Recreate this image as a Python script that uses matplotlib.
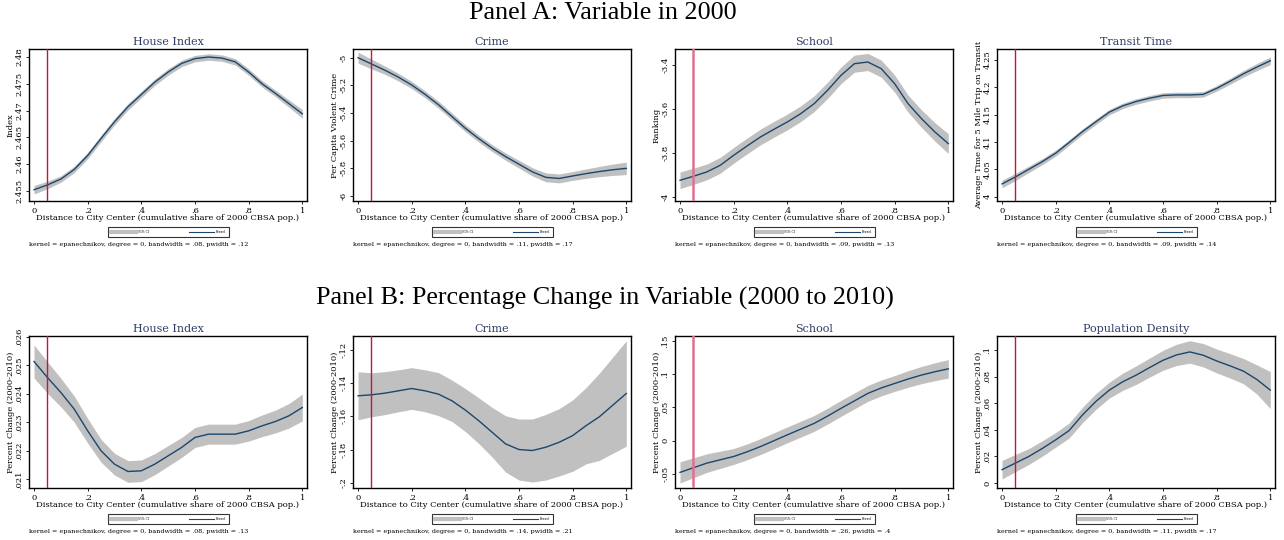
import numpy as np
import matplotlib
matplotlib.use("Agg")
import matplotlib.pyplot as plt
from matplotlib.lines import Line2D

# ---------------- data ----------------
x_grid = [0, .05, .1, .15, .2, .25, .3, .35, .4, .45, .5, .55, .6, .65, .7, .75, .8, .85, .9, .95, 1.0]

a_house = [2.4552, 2.4561, 2.4572, 2.4590, 2.4616, 2.4648, 2.4679, 2.4707, 2.4730, 2.4753, 2.4772,
           2.4788, 2.4797, 2.4800, 2.4798, 2.4791, 2.4772, 2.4750, 2.4732, 2.4713, 2.4694]
a_house_ci = [.0008, .0007, .0006, .0006, .0006, .0006, .0006, .0006, .0006, .0006, .0006,
              .0006, .0006, .0006, .0006, .0006, .0006, .0006, .0006, .0007, .0008]

a_crime = [-5.0, -5.045, -5.09, -5.14, -5.197, -5.265, -5.34, -5.425, -5.51, -5.585, -5.654,
           -5.715, -5.77, -5.825, -5.865, -5.873, -5.855, -5.838, -5.823, -5.81, -5.80]
a_crime_ci = [.04, .035, .03, .028, .026, .025, .025, .025, .025, .025, .025,
              .026, .028, .03, .032, .032, .032, .034, .037, .041, .045]

a_school = [-3.9255, -3.9073, -3.8875, -3.8571, -3.8116, -3.769, -3.728, -3.6931, -3.6597, -3.6217, -3.5762,
            -3.5154, -3.4471, -3.394, -3.3863, -3.4167, -3.485, -3.5762, -3.6445, -3.7052, -3.7584]
a_school_ci = [.038, .037, .036, .036, .036, .036, .036, .036, .036, .036, .036,
               .037, .038, .039, .039, .039, .039, .039, .04, .042, .045]

a_transit = [4.0232, 4.036, 4.050, 4.064, 4.0795, 4.099, 4.119, 4.137, 4.1546, 4.166, 4.174,
             4.180, 4.185, 4.186, 4.186, 4.187, 4.198, 4.211, 4.2247, 4.237, 4.2485]
a_transit_ci = [.007, .0065, .006, .0055, .0055, .005, .005, .005, .005, .005, .005,
                .005, .005, .005, .005, .005, .005, .0055, .006, .0065, .007]

b_house = [.025136, .024575, .024049, .023465, .022705, .022004, .021536, .021279, .021303, .021536, .021829,
           .022121, .022472, .022588, .022588, .022588, .022705, .022880, .023033, .023231, .023523]
b_house_ci = [.00058, .00055, .0005, .00046, .00043, .0004, .00038, .00038, .00038, .00037, .00036,
              .00035, .00035, .00035, .00035, .00035, .00036, .00038, .0004, .00043, .00047]

b_crime = [-.14768, -.14709, -.14609, -.1447, -.1433, -.1447, -.14669, -.15067, -.15624, -.16261, -.16957,
           -.17654, -.17992, -.18052, -.17853, -.17554, -.17157, -.16559, -.16022, -.15325, -.14629]
b_crime_ci = [.0144, .0132, .0129, .0126, .0125, .0126, .0129, .0124, .0129, .0137, .0149,
              .0169, .0183, .0189, .0197, .0202, .0214, .0229, .0262, .0289, .0316]

b_school = [-.048, -.041, -.034, -.029, -.024, -.017, -.009, -.0002, .0087, .0173, .026,
            .037, .0487, .060, .0713, .0795, .0863, .093, .099, .104, .1084]
b_school_ci = [.016, .015, .014, .013, .012, .012, .012, .012, .012, .012, .012,
               .012, .012, .012, .012, .012, .012, .0125, .013, .0135, .014]

b_popden = [.01, .015, .02, .026, .0325, .0395, .0513, .0615, .07, .0763, .0813,
            .087, .0925, .0965, .0988, .0963, .092, .0883, .0843, .078, .07]
b_popden_ci = [.007, .0065, .006, .0058, .0055, .0057, .0058, .006, .006, .0065, .007,
               .0072, .0075, .008, .0085, .0088, .009, .0092, .0095, .011, .014]

panel_a_titles = ["House Index", "Crime", "School", "Transit Time"]
panel_b_titles = ["House Index", "Crime", "School", "Population Density"]
panel_a_ylabels = ["Index", "Per Capita Violent Crime", "Ranking", "Average Time for 5 Mile Trip on Transit"]
panel_b_ylabels = ["Percent Change (2000-2010)"] * 4

a_yticks = [[2.455, 2.46, 2.465, 2.47, 2.475, 2.48], [-6, -5.8, -5.6, -5.4, -5.2, -5],
            [-4, -3.8, -3.6, -3.4], [4, 4.05, 4.1, 4.15, 4.2, 4.25]]
a_yticklabels = [["2.455", "2.46", "2.465", "2.47", "2.475", "2.48"], ["-6", "-5.8", "-5.6", "-5.4", "-5.2", "-5"],
                 ["-4", "-3.8", "-3.6", "-3.4"], ["4", "4.05", "4.1", "4.15", "4.2", "4.25"]]
b_yticks = [[.021, .022, .023, .024, .025, .026], [-.2, -.18, -.16, -.14, -.12],
            [-.05, 0, .05, .1, .15], [0, .02, .04, .06, .08, .1]]
b_yticklabels = [[".021", ".022", ".023", ".024", ".025", ".026"], ["-.2", "-.18", "-.16", "-.14", "-.12"],
                 ["-.05", "0", ".05", ".1", ".15"], ["0", ".02", ".04", ".06", ".08", ".1"]]
a_ylims = [(2.4531, 2.4815), (-6.036, -4.937), (-4.02, -3.327), (3.992, 4.270)]
b_ylims = [(.0207, .02603), (-.203, -.1118), (-.0716, .158), (-.0038, .1108)]

xticks = [0, .2, .4, .6, .8, 1]
xticklabels = ["0", ".2", ".4", ".6", ".8", "1"]

a_notes = [(.08, .12), (.11, .17), (.09, .13), (.09, .14)]
b_notes = [(.08, .13), (.14, .21), (.26, .4), (.11, .17)]

cutoff = 0.05

# ---------------- styling ----------------
SERIF = "DejaVu Serif"
NAVY = "#1a476f"
TITLE_C = "#2f3e68"
CI_C = "#c0c0c0"
RED = "#c8143c"

fig = plt.figure(figsize=(12.84, 5.4), dpi=100)
W, H = 1284, 540
lefts = [29, 353, 675, 997]
aw = 278
rows = [(49, 201), (336, 488)]

fig.text(603 / W, 1 - 13 / H, "Panel A: Variable in 2000", ha="center", va="center",
         family="Liberation Serif", fontsize=18.8)
fig.text(605 / W, 1 - 298 / H, "Panel B: Percentage Change in Variable (2000 to 2010)", ha="center",
         va="center", family="Liberation Serif", fontsize=18.8)

series_a = [(a_house, a_house_ci), (a_crime, a_crime_ci), (a_school, a_school_ci), (a_transit, a_transit_ci)]
series_b = [(b_house, b_house_ci), (b_crime, b_crime_ci), (b_school, b_school_ci), (b_popden, b_popden_ci)]

for r, (top, bot) in enumerate(rows):
    series = series_a if r == 0 else series_b
    titles = panel_a_titles if r == 0 else panel_b_titles
    ylabels = panel_a_ylabels if r == 0 else panel_b_ylabels
    yt = a_yticks if r == 0 else b_yticks
    ytl = a_yticklabels if r == 0 else b_yticklabels
    ylims = a_ylims if r == 0 else b_ylims
    notes = a_notes if r == 0 else b_notes
    for c in range(4):
        ax = fig.add_axes([lefts[c] / W, 1 - bot / H, aw / W, (bot - top) / H])
        y, ci = series[c]
        x = np.array(x_grid)
        y = np.array(y)
        ci = np.array(ci)
        ax.fill_between(x, y - ci, y + ci, color=CI_C, lw=0, zorder=1)
        ax.plot(x, y, color=NAVY, lw=1.0, zorder=3, solid_joinstyle="round")
        if titles[c] == "School":
            ax.axvline(cutoff, color="#e0708f", lw=1.8, zorder=4)
        else:
            ax.axvline(cutoff, color=RED, lw=1.0, zorder=4)
        ax.set_xlim(-0.0187, 1.0175)
        ax.set_ylim(*ylims[c])
        ax.set_xticks(xticks)
        ax.set_xticklabels(xticklabels, family=SERIF, fontsize=6)
        ax.set_yticks(yt[c])
        ax.set_yticklabels(ytl[c], family=SERIF, fontsize=6, rotation=90, va="center")
        ax.tick_params(length=2.5, width=0.6, pad=1.5, color="black")
        for s in ax.spines.values():
            s.set_linewidth(1.0)
        ax.set_title(titles[c], family=SERIF, fontsize=8, color=TITLE_C, pad=3)
        ax.set_xlabel("Distance to City Center (cumulative share of 2000 CBSA pop.)", family=SERIF, fontsize=6)
        ax.xaxis.set_label_coords(0.5, -(218 - 201) / 152)
        ax.xaxis.label.set_va("center")
        ax.set_ylabel(ylabels[c], family=SERIF, fontsize=6)
        ax.yaxis.set_label_coords(-0.065, 0.5)
        ax.yaxis.label.set_va("center")
        handles = [Line2D([], [], color=CI_C, lw=3), Line2D([], [], color=NAVY, lw=0.8)]
        leg = ax.legend(handles, ["95% CI", "Kernel"], loc="center", ncol=2, mode="expand",
                        bbox_to_anchor=(0.28, -0.235, 0.446, 0.058),
                        frameon=True, fancybox=False, edgecolor="black", handlelength=8,
                        borderpad=1.0, columnspacing=2, prop={"family": SERIF, "size": 2.2})
        leg.get_frame().set_linewidth(0.8)
        bw, pw = notes[c]
        ax.text(0.0, -0.283, "kernel = epanechnikov, degree = 0, bandwidth = %s, pwidth = %s"
                % (("%g" % bw).lstrip("0"), ("%g" % pw).lstrip("0")),
                transform=ax.transAxes, family=SERIF, fontsize=4.6, ha="left", va="center")

fig.savefig("out.png", dpi=100)
